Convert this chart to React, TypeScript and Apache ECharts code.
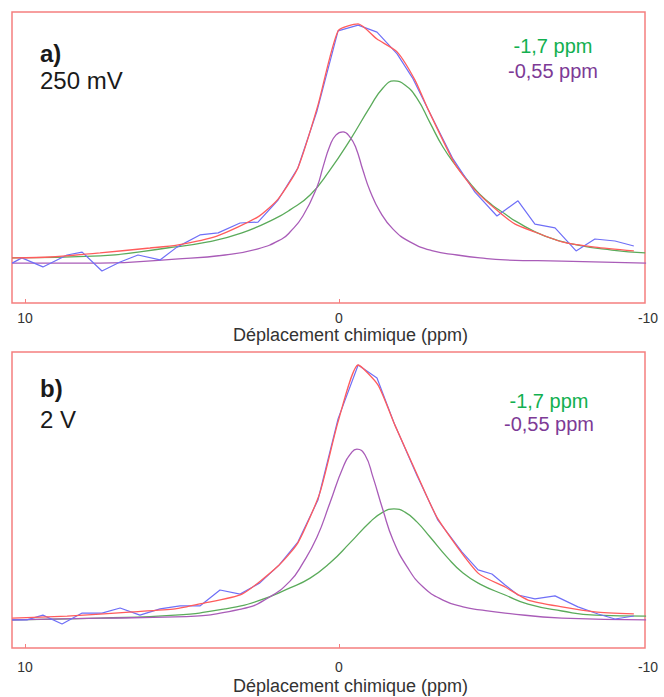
import React, { useEffect, useRef } from "react";
import * as echarts from "echarts";

// x axis (ppm, inverted) tick labels
const xTickLabels = [10, 0, -10];
const xTickMarks = [10, 0];
const axisTitle = "Déplacement chimique (ppm)";

// Panel a) 250 mV  — [ppm, intensity]
const aMeasured: [number, number][] = [
  [10.41, 13.7], [10.1, 15.5], [9.43, 12.4], [8.66, 16.5], [8.18, 17.5], [7.55, 11.0],
  [6.97, 14.1], [6.4, 16.5], [5.7, 14.8], [5.16, 19.2], [4.43, 23.4], [3.85, 24.1],
  [3.15, 27.5], [2.58, 27.8], [1.94, 35.4], [1.31, 46.4], [0.7, 66.0], [0.03, 93.5],
  [-0.61, 95.5], [-1.21, 93.1], [-1.85, 85.6], [-2.36, 77.0], [-2.83, 66.7], [-3.63, 49.5],
  [-4.33, 38.1], [-5.03, 29.9], [-5.7, 35.1], [-6.24, 27.1], [-6.88, 25.8], [-7.55, 17.9],
  [-8.15, 22.0], [-8.79, 21.3], [-9.39, 19.6],
];
const aFit: [number, number][] = [
  [10.41, 15.5], [9.2, 15.8], [7.61, 17.2], [6.02, 18.9], [5.16, 19.9], [3.89, 23.0],
  [2.58, 29.6], [1.94, 35.7], [1.31, 46.4], [0.67, 68.0], [0.03, 93.5], [-0.61, 95.9],
  [-1.21, 90.7], [-1.85, 86.3], [-2.42, 76.6], [-2.83, 66.7], [-3.69, 47.8], [-4.33, 38.8],
  [-5.06, 31.6], [-5.61, 27.1], [-6.24, 24.4], [-7.1, 21.0], [-8.15, 19.2], [-9.39, 17.9],
];
const aPeakGreen: [number, number][] = [
  [10.41, 15.5], [7.61, 16.2], [5.48, 18.9], [4.17, 21.0], [3.09, 24.1], [2.04, 29.0],
  [1.56, 32.0], [0.92, 37.1], [0.29, 45.7], [-0.35, 56.0], [-0.99, 67.4], [-1.4, 73.9],
  [-1.75, 76.3], [-2.1, 74.9], [-2.48, 70.4], [-2.9, 61.9], [-3.31, 53.6], [-3.76, 46.7],
  [-4.17, 41.2], [-4.49, 37.3], [-4.87, 33.7], [-5.29, 30.6], [-5.61, 28.2], [-6.56, 23.0],
  [-7.61, 19.9], [-8.69, 18.2], [-9.75, 17.2],
];
const aPeakPurple: [number, number][] = [
  [10.41, 13.7], [7.61, 13.7], [5.22, 15.1], [3.63, 16.5], [2.58, 18.6], [1.82, 22.0],
  [1.56, 24.4], [1.15, 29.9], [0.7, 39.9], [0.51, 46.7], [0.29, 54.0], [0.1, 57.7],
  [-0.13, 58.8], [-0.35, 57.0], [-0.54, 53.3], [-0.76, 45.7], [-0.99, 38.5], [-1.31, 31.3],
  [-1.72, 25.4], [-2.26, 21.0], [-2.99, 17.9], [-3.76, 16.5], [-4.49, 15.5], [-5.29, 14.8],
  [-7.1, 14.4], [-9.78, 13.7],
];

// Panel b) 2 V
const bMeasured: [number, number][] = [
  [10.41, 9.5], [9.94, 9.5], [9.43, 11.1], [8.82, 8.1], [8.18, 11.8], [7.55, 11.8],
  [6.97, 13.5], [6.34, 11.1], [5.7, 13.2], [5.06, 14.2], [4.43, 14.2], [3.79, 19.6],
  [3.15, 18.2], [2.52, 22.0], [1.91, 28.0], [1.31, 35.8], [0.67, 50.0], [0.03, 77.4],
  [-0.61, 95.6], [-1.21, 91.2], [-1.78, 75.3], [-2.48, 58.4], [-3.15, 43.2], [-3.92, 32.4],
  [-4.43, 26.4], [-4.87, 25.0], [-5.29, 21.3], [-5.7, 17.9], [-6.24, 16.6], [-6.88, 17.6],
  [-7.61, 13.9], [-8.25, 11.5], [-8.79, 9.8], [-9.39, 10.8],
];
const bFit: [number, number][] = [
  [10.41, 10.1], [8.66, 10.8], [6.56, 12.2], [5.22, 13.2], [4.43, 14.9], [3.09, 18.2],
  [1.94, 27.7], [1.31, 35.5], [0.61, 52.4], [0.03, 76.4], [-0.61, 95.6], [-1.24, 88.9],
  [-1.78, 75.3], [-2.48, 58.8], [-3.15, 43.6], [-4.43, 25.3], [-5.29, 20.6], [-6.02, 16.2],
  [-7.1, 13.9], [-8.15, 12.2], [-9.39, 11.5],
];
const bPeakGreen: [number, number][] = [
  [10.41, 9.5], [7.61, 10.1], [5.22, 11.1], [3.63, 13.2], [2.58, 15.9], [1.56, 20.3],
  [0.92, 23.6], [0.29, 28.7], [-0.35, 35.5], [-0.99, 42.6], [-1.4, 45.9], [-1.75, 47.0],
  [-2.1, 45.9], [-2.48, 42.6], [-2.9, 37.5], [-3.44, 30.7], [-3.95, 25.3], [-4.49, 21.6],
  [-5.29, 17.9], [-6.02, 14.8], [-7.1, 12.5], [-8.15, 11.1], [-9.78, 10.8],
];
const bPeakPurple: [number, number][] = [
  [10.41, 9.5], [7.61, 10.1], [5.22, 10.5], [3.09, 13.2], [2.26, 16.9], [1.56, 22.6],
  [1.15, 28.7], [0.7, 37.5], [0.29, 49.0], [-0.13, 61.1], [-0.41, 66.2], [-0.57, 67.2],
  [-0.83, 65.2], [-1.08, 57.8], [-1.4, 46.6], [-1.72, 36.5], [-2.17, 27.4], [-2.68, 20.6],
  [-3.31, 16.2], [-3.95, 13.9], [-4.49, 12.9], [-5.29, 11.8], [-7.1, 10.1], [-9.78, 9.5],
];

const panelLetters = ["a)", "b)"];
const panelConditions = ["250 mV", "2 V"];
const peakLabels = ["-1,7 ppm", "-0,55 ppm"];

const FONT = "'Liberation Sans', Arial, Helvetica, sans-serif";
const C_BLUE = "#6f6ff7";
const C_RED = "#ff5c5c";
const C_GREEN = "#5bab5b";
const C_PURPLE = "#a95cb8";
const C_BOX = "#f57f7f";
const C_LBL_GREEN = "#12b050";
const C_LBL_PURPLE = "#7d3a96";

export default function App() {
  const ref = useRef<HTMLDivElement>(null);
  useEffect(() => {
    if (!ref.current) return;
    const chart = echarts.init(ref.current, null, { renderer: "svg" });

    const grids = [
      { left: 12, top: 12, width: 641, height: 291 },
      { left: 12, top: 352, width: 641, height: 296 },
    ];
    const labelMargins = [8, 12];
    const nameGaps = [21, 29];

    const xAxes = grids.map((_, i) => ({
      gridIndex: i,
      type: "value",
      inverse: true,
      min: -10,
      max: 10.414,
      axisLine: { show: false },
      splitLine: { show: false },
      axisTick: {
        show: true,
        inside: true,
        length: 4,
        customValues: xTickMarks,
        lineStyle: { color: C_BOX, width: 1 },
      },
      axisLabel: {
        customValues: xTickLabels,
        margin: labelMargins[i],
        color: "#333",
        fontSize: 14,
        fontFamily: FONT,
        formatter: (v: number) => (v === -10 ? `{r|${v}}` : `${v}`),
        rich: { r: { padding: [0, 10, 0, 0], fontSize: 14, fontFamily: FONT, color: "#333" } },
      },
      name: axisTitle,
      nameLocation: "middle",
      nameGap: nameGaps[i],
      nameTextStyle: { fontSize: 18, color: "#333", fontFamily: FONT, padding: [0, 0, 0, 36] },
    }));
    const yAxes = grids.map((_, i) => ({ gridIndex: i, type: "value", min: 0, max: 100, show: false }));

    const mk = (data: [number, number][], color: string, idx: number, smooth: number | boolean, width = 1.3) => ({
      type: "line",
      xAxisIndex: idx,
      yAxisIndex: idx,
      data,
      smooth,
      symbol: "none",
      lineStyle: { color, width },
      silent: true,
    });

    const series = [
      mk(aPeakGreen, C_GREEN, 0, 0.5),
      mk(aPeakPurple, C_PURPLE, 0, 0.5),
      mk(aMeasured, C_BLUE, 0, false, 1.2),
      mk(aFit, C_RED, 0, 0.2),
      mk(bPeakGreen, C_GREEN, 1, 0.5),
      mk(bPeakPurple, C_PURPLE, 1, 0.5),
      mk(bMeasured, C_BLUE, 1, false, 1.2),
      mk(bFit, C_RED, 1, 0.2),
    ];

    const txt = (x: number, y: number, text: string, size: number, color: string, bold = false, align = "left") => ({
      type: "text",
      x,
      y,
      silent: true,
      style: {
        text,
        fill: color,
        fontSize: size,
        fontFamily: FONT,
        fontWeight: bold ? "bold" : "normal",
        align,
        verticalAlign: "middle",
      },
    });

    const graphic = [
      { type: "rect", shape: { x: 12, y: 12, width: 633, height: 291 }, style: { fill: "none", stroke: C_BOX, lineWidth: 1.5 }, silent: true },
      { type: "rect", shape: { x: 12, y: 352, width: 633, height: 296 }, style: { fill: "none", stroke: C_BOX, lineWidth: 1.5 }, silent: true },
      txt(40, 53, panelLetters[0], 24, "#1a1a1a", true),
      txt(40, 80, panelConditions[0], 24, "#1a1a1a"),
      txt(553, 46, peakLabels[0], 20, C_LBL_GREEN, false, "center"),
      txt(553, 71, peakLabels[1], 20, C_LBL_PURPLE, false, "center"),
      txt(40, 388, panelLetters[1], 24, "#1a1a1a", true),
      txt(40, 419, panelConditions[1], 24, "#1a1a1a"),
      txt(549, 401, peakLabels[0], 20, C_LBL_GREEN, false, "center"),
      txt(549, 424, peakLabels[1], 20, C_LBL_PURPLE, false, "center"),
    ];

    chart.setOption({
      animation: false,
      backgroundColor: "#ffffff",
      grid: grids,
      xAxis: xAxes,
      yAxis: yAxes,
      series,
      graphic,
    });
    return () => chart.dispose();
  }, []);

  return (
    <div
      ref={ref}
      style={{ position: "absolute", left: 0, top: 0, width: 664, height: 697, background: "#fff" }}
    />
  );
}
